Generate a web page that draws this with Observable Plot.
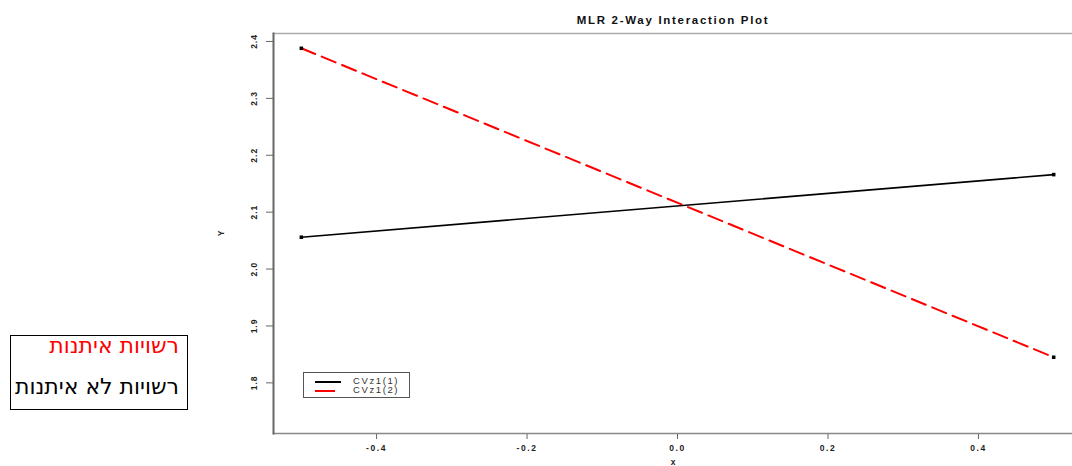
<!DOCTYPE html>
<html>
<head>
<meta charset="utf-8">
<script src="https://cdn.jsdelivr.net/npm/d3@7"></script>
<script src="https://cdn.jsdelivr.net/npm/@observablehq/plot@0.6"></script>
<style>
  html, body { margin: 0; padding: 0; background: #fff; }
  #wrap { position: relative; width: 1072px; height: 466px; overflow: hidden; font-family: "Liberation Sans", Arial, sans-serif; }
  #wrap svg g[aria-label="x-axis tick label"] text { letter-spacing: 1.6px; }
  #wrap svg g[aria-label="y-axis tick label"] text { letter-spacing: 1px; }
  #wrap svg g[aria-label="text"] text { letter-spacing: 1.7px; }
  #groups {
    position: absolute; left: 10px; top: 335px; width: 178px; height: 75px;
    border: 1.5px solid #000; box-sizing: border-box; direction: rtl;
    font-family: "DejaVu Sans", "Noto Sans", sans-serif; font-size: 22px; line-height: 1;
  }
  #groups div { position: absolute; right: 8px; white-space: nowrap; }
  #legend {
    position: absolute; left: 303px; top: 372px; width: 107px; height: 26px;
    border: 1px solid #555; box-sizing: border-box; background: #fff;
    font-size: 9.5px; color: #333;
  }
  #legend .row { position: absolute; left: 0; height: 9px; }
  #legend .swatch { position: absolute; left: 11px; width: 26px; height: 0; }
  #legend .lab { position: absolute; left: 49px; top: -6px; letter-spacing: 1.6px; white-space: nowrap; }
</style>
</head>
<body>
<div id="wrap"></div>
<script>
// Moderator levels and the predicted Y at the low / high value of x
const levels = ["CVz1(1)", "CVz1(2)"];
const xValues = [-0.5, 0.5];
const yLevel1 = [2.056, 2.166];
const yLevel2 = [2.388, 1.845];
const levelColors = ["#000000", "#ff0000"];
const xTicks = [-0.4, -0.2, 0.0, 0.2, 0.4];
const yTicks = [1.8, 1.9, 2.0, 2.1, 2.2, 2.3, 2.4];
const groupLabels = ["רשויות איתנות", "רשויות לא איתנות"];
const groupColors = ["#ff0000", "#000000"];

const rows = [
  ...xValues.map((x, i) => ({x, y: yLevel1[i], level: levels[0]})),
  ...xValues.map((x, i) => ({x, y: yLevel2[i], level: levels[1]}))
];

const chart = Plot.plot({
  width: 1072,
  height: 466,
  marginLeft: 273,
  marginRight: 0,
  marginTop: 33,
  marginBottom: 33,
  style: {fontFamily: "Liberation Sans, Arial, sans-serif", fontWeight: "bold", fontSize: "8.5px", color: "#222", background: "#fff"},
  x: {domain: [-0.537, 0.525], ticks: xTicks, tickFormat: d => d.toFixed(1)},
  y: {domain: [1.711, 2.414], ticks: yTicks, tickFormat: d => d.toFixed(1)},
  marks: [
    // plot box: top, bottom and left edges
    Plot.frame({anchor: "top", stroke: "#aaa", strokeWidth: 1.5, strokeOpacity: 1}),
    Plot.axisX({ticks: xTicks, tickFormat: d => d.toFixed(1), tickSize: 6, tickPadding: 5,
                label: "x", labelAnchor: "center", labelOffset: 31, labelArrow: "none", stroke: "#666"}),
    Plot.axisY({ticks: yTicks, tickFormat: d => d.toFixed(1), tickSize: 7, tickPadding: 10, tickRotate: -90,
                label: "Y", labelAnchor: "center", labelOffset: 56, labelArrow: "none", stroke: "#666"}),
    Plot.frame({anchor: "bottom", stroke: "#888", strokeWidth: 1.5, strokeOpacity: 1}),
    Plot.frame({anchor: "left", stroke: "#666", strokeWidth: 2, strokeOpacity: 1}),
    Plot.line(rows.filter(d => d.level === levels[0]), {x: "x", y: "y", stroke: levelColors[0], strokeWidth: 1.6}),
    Plot.line(rows.filter(d => d.level === levels[1]), {x: "x", y: "y", stroke: levelColors[1], strokeWidth: 2, strokeDasharray: "15,7"}),
    Plot.dot(rows, {x: "x", y: "y", symbol: "square", r: 2, fill: "#000"}),
    Plot.text(["MLR 2-Way Interaction Plot"], {frameAnchor: "top", dy: -18, fontSize: 11.5, fontWeight: "bold", fill: "#111"})
  ]
});

const wrap = document.getElementById("wrap");
wrap.appendChild(chart);

// in-plot legend for the moderator levels
const legend = document.createElement("div");
legend.id = "legend";
levels.forEach((name, i) => {
  const row = document.createElement("div");
  row.className = "row";
  row.style.top = (8 + i * 9) + "px";
  row.innerHTML = `<div class="swatch" style="border-top:2px solid ${levelColors[i]};${i ? "width:20px;" : ""}"></div><div class="lab">${name}</div>`;
  legend.appendChild(row);
});
wrap.appendChild(legend);

// group key box to the left of the plot
const groups = document.createElement("div");
groups.id = "groups";
groupLabels.forEach((name, i) => {
  const d = document.createElement("div");
  d.textContent = name;
  d.style.color = groupColors[i];
  d.style.top = (i === 0 ? -1 : 40) + "px";
  groups.appendChild(d);
});
wrap.appendChild(groups);
</script>
</body>
</html>
